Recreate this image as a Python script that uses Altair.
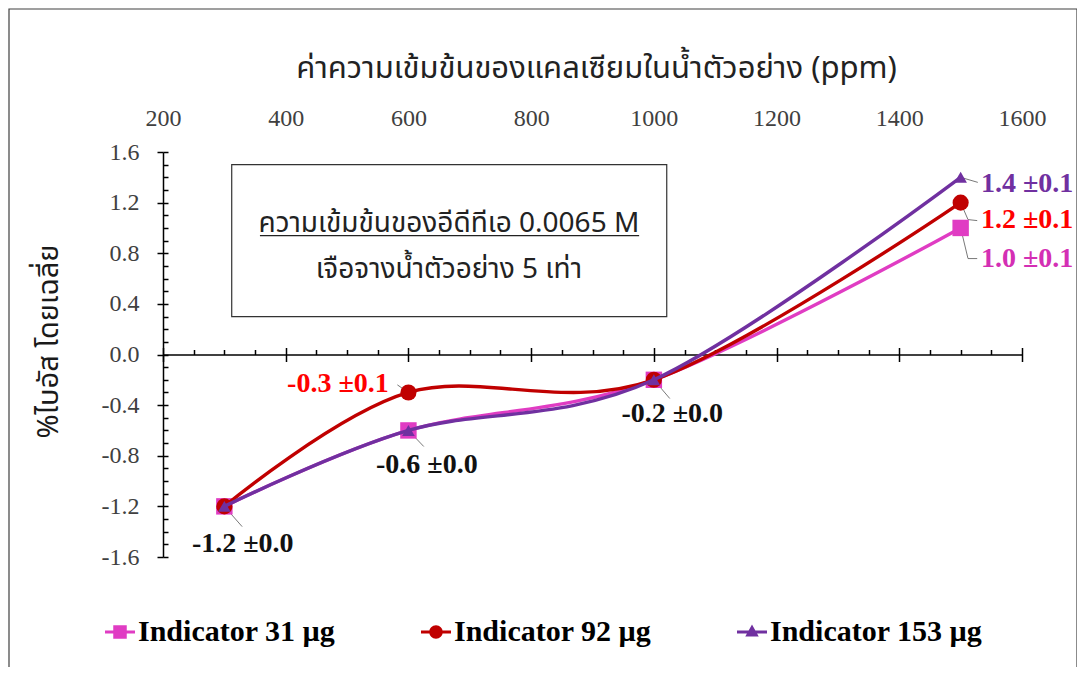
import altair as alt
import pandas as pd

# ---------------- data ----------------
conc = [300, 600, 1000, 1500]
series_names = ["Indicator 31 µg", "Indicator 92 µg", "Indicator 153 µg"]
bias_31 = [-1.2, -0.6, -0.2, 1.0]
bias_92 = [-1.2, -0.3, -0.2, 1.2]
bias_153 = [-1.2, -0.6, -0.2, 1.4]
series_values = [bias_31, bias_92, bias_153]
series_colors = ["#E03CC3", "#C00000", "#7030A0"]
marker_shapes = ["square", "circle", "triangle-up"]
marker_sizes = [270, 260, 160]

# annotation labels
label_texts = ["-1.2 ±0.0", "-0.6 ±0.0", "-0.3 ±0.1", "-0.2 ±0.0", "1.4 ±0.1", "1.2 ±0.1", "1.0 ±0.1"]
label_x = [330, 630, 568, 1030, 1533, 1533, 1533]
label_y = [-1.50, -0.87, -0.237, -0.474, 1.35, 1.066, 0.758]
label_colors = ["#111111", "#111111", "#FF0000", "#111111", "#7030A0", "#FF0000", "#D42FB4"]
label_align = ["center", "center", "right", "center", "left", "left", "left"]

# leader lines (id, x, y)
leader_id = [1, 1, 2, 2, 3, 3, 4, 4, 5, 5, 6, 6, 6, 7, 7, 7]
leader_x = [582, 600, 600, 625, 1000, 1026, 300, 329, 1500, 1528, 1500, 1512, 1527, 1500, 1512, 1527]
leader_y = [-0.24, -0.30, -0.6, -0.727, -0.2, -0.348, -1.2, -1.36, 1.4, 1.36, 1.2, 1.066, 1.058, 1.0, 0.758, 0.758]

# text box
box_x = [312]
box_x2 = [1021]
box_y = [1.5]
box_y2 = [0.3]
box_line1 = "ความเข้มข้นของอีดีทีเอ 0.0065 M"
box_line2 = "เจือจางน้ำตัวอย่าง 5 เท่า"
boxtext_x = [666, 666]
boxtext_y = [1.035, 0.671]
underline_x = [358]
underline_x2 = [976]
underline_y = [0.94]

x_title = "ค่าความเข้มข้นของแคลเซียมในน้ำตัวอย่าง (ppm)"
y_title = "%ไบอัส โดยเฉลี่ย"

x_major = list(range(200, 1601, 200))
x_minor = list(range(200, 1601, 50))
y_major = [round(-1.6 + 0.4 * i, 1) for i in range(9)]
y_minor = [round(-1.6 + 0.1 * i, 1) for i in range(33)]

# ---------------- styling ----------------
W, H = 859, 405
SERIF = "Liberation Serif"
THAI = "Noto Sans Thai, Noto Sans, DejaVu Sans, sans-serif"

x_scale = alt.Scale(domain=[200, 1600], nice=False, zero=False)
y_scale = alt.Scale(domain=[-1.6, 1.6], nice=False, zero=False)

axis_top_labels = alt.Axis(
    orient="top", values=x_major, format="d", labelFont=SERIF, labelFontSize=24, labelColor="#404040",
    labelPadding=22, ticks=False, tickSize=0, domain=False, grid=False, labelFlush=False,
    labelOverlap=False, title=x_title, titleFont=THAI, titleFontSize=31, titleFontWeight="normal",
    titleColor="#222222", titleX=433, titleY=-84, titleBaseline="middle", titleAlign="center",
)
axis_zero_top = alt.Axis(
    orient="top", offset=-202.5, values=x_minor, labels=False, domain=True, domainColor="black",
    domainWidth=1.5, ticks=True, tickColor="black", tickWidth=1.5,
    tickSize={"condition": {"test": "datum.value % 200 === 0", "value": 7}, "value": 5},
    grid=False, title=None,
)
axis_zero_bottom = alt.Axis(
    orient="bottom", offset=-202.5, values=x_major, labels=False, domain=False, ticks=True,
    tickColor="black", tickWidth=1.5, tickSize=7, grid=False, title=None,
)
y_axis_left = alt.Axis(
    orient="left", values=y_major, labelExpr="replace(format(datum.value, '.1f'), '\u2212', '-')",
    labelFont=SERIF, labelFontSize=24, labelColor="#404040", labelPadding=18, tickSize=6,
    tickWidth=1.5, tickColor="black", domainColor="black", domainWidth=1.5, grid=False,
    labelFlush=False, labelOverlap=False,
    title=y_title, titleFont=THAI, titleFontSize=29, titleFontWeight="normal", titleColor="#1a1a1a",
    titleX=-115, titleY=189, titleAngle=270, titleBaseline="middle", titleAlign="center",
)
y_axis_minor = alt.Axis(
    orient="right", offset=-W, values=y_minor, labels=False, domain=False, ticks=True,
    tickColor="black", tickWidth=1.5, tickSize=5, grid=False, title=None,
)

layers = []

# chart-area frame (decoration)
frame = alt.Chart(pd.DataFrame({"a": [0]})).mark_rect(
    fillOpacity=0, stroke="#404040", strokeWidth=1.2
).encode(x=alt.value(-154), x2=alt.value(914), y=alt.value(-143), y2=alt.value(600))
layers.append(frame)

# text box
df_box = pd.DataFrame({"x": box_x, "x2": box_x2, "y": box_y, "y2": box_y2})
box = alt.Chart(df_box).mark_rect(fill="white", stroke="#333333", strokeWidth=1.2).encode(
    x=alt.X("x:Q", scale=x_scale, axis=axis_top_labels),
    x2="x2:Q",
    y=alt.Y("y:Q", scale=y_scale, axis=y_axis_left),
    y2="y2:Q",
)
layers.append(box)

df_boxtext = pd.DataFrame({"x": boxtext_x, "y": boxtext_y, "t": [box_line1, box_line2]})
boxtext = alt.Chart(df_boxtext).mark_text(font=THAI, fontSize=28, color="#222222", baseline="middle").encode(
    x=alt.X("x:Q", scale=x_scale, axis=None),
    y=alt.Y("y:Q", scale=y_scale, axis=None),
    text="t:N",
)
layers.append(boxtext)
df_ul = pd.DataFrame({"x": underline_x, "x2": underline_x2, "y": underline_y})
underline = alt.Chart(df_ul).mark_rule(color="#222222", strokeWidth=1.3).encode(
    x=alt.X("x:Q", scale=x_scale, axis=None), x2="x2:Q", y=alt.Y("y:Q", scale=y_scale, axis=None)
)
layers.append(underline)

# leader lines
df_lead = pd.DataFrame({"id": leader_id, "x": leader_x, "y": leader_y, "o": list(range(len(leader_x)))})
leaders = alt.Chart(df_lead).mark_line(color="#555555", strokeWidth=0.8).encode(
    x=alt.X("x:Q", scale=x_scale, axis=None),
    y=alt.Y("y:Q", scale=y_scale, axis=None),
    detail="id:N",
    order="o:Q",
)
layers.append(leaders)

# series
for i, name in enumerate(series_names):
    df_s = pd.DataFrame({"conc": conc, "bias": series_values[i]})
    if i == 0:
        xa, ya = axis_zero_top, y_axis_minor
    elif i == 1:
        xa, ya = axis_zero_bottom, None
    else:
        xa, ya = None, None
    line = alt.Chart(df_s).mark_line(color=series_colors[i], strokeWidth=3.4, interpolate="cardinal").encode(
        x=alt.X("conc:Q", scale=x_scale, axis=xa),
        y=alt.Y("bias:Q", scale=y_scale, axis=ya),
    )
    pts = alt.Chart(df_s).mark_point(
        filled=True, shape=marker_shapes[i], size=marker_sizes[i], color=series_colors[i], opacity=1
    ).encode(
        x=alt.X("conc:Q", scale=x_scale, axis=None),
        y=alt.Y("bias:Q", scale=y_scale, axis=None),
    )
    layers += [line, pts]

# annotation labels
df_lab = pd.DataFrame({"x": label_x, "y": label_y, "t": label_texts, "c": label_colors, "a": label_align})
for al in ["left", "center", "right"]:
    lab = alt.Chart(df_lab).transform_filter(alt.datum.a == al).mark_text(
        font=SERIF, fontSize=28, fontWeight="bold", align=al, baseline="middle"
    ).encode(
        x=alt.X("x:Q", scale=x_scale, axis=None),
        y=alt.Y("y:Q", scale=y_scale, axis=None),
        text="t:N",
        color=alt.Color("c:N", scale=None),
    )
    layers.append(lab)

# legend (line + marker symbols)
legend_paths = [
    "M-1,-0.1H1V0.1H-1Z M-0.45,-0.45H0.45V0.45H-0.45Z",
    "M-1,-0.1H1V0.1H-1Z M0.45,0A0.45,0.45 0 1,1 -0.45,0A0.45,0.45 0 1,1 0.45,0Z",
    "M-1,-0.1H1V0.1H-1Z M0,-0.5L0.45,0.3L-0.45,0.3Z",
]
df_leg = pd.DataFrame({"series": series_names, "conc": conc[:3], "bias": bias_31[:3]})
leg = alt.Legend(
    orient="none", legendX=-58, legendY=465, direction="horizontal", title=None,
    labelFont=SERIF, labelFontSize=30, labelFontWeight="bold", labelColor="black",
    symbolSize=900, symbolStrokeWidth=0, labelOffset=3, columnPadding=70, padding=0, labelLimit=0,
    gridAlign="all",
)
legend_layer = alt.Chart(df_leg).transform_filter("false").mark_point(filled=True, opacity=1).encode(
    x=alt.X("conc:Q", scale=x_scale, axis=None),
    y=alt.Y("bias:Q", scale=y_scale, axis=None),
    color=alt.Color("series:N", scale=alt.Scale(domain=series_names, range=series_colors), legend=leg),
    shape=alt.Shape("series:N", scale=alt.Scale(domain=series_names, range=legend_paths), legend=leg),
)
layers.append(legend_layer)

chart = alt.layer(*layers).resolve_axis(x="independent", y="independent").properties(
    width=W, height=H,
    padding={"left": 155, "top": 144, "right": 55, "bottom": 110},
    autosize=alt.AutoSizeParams(type="none"),
    background="white",
).configure_view(stroke=None)

chart.save("out.html", embed_options={"renderer": "svg", "actions": False})
